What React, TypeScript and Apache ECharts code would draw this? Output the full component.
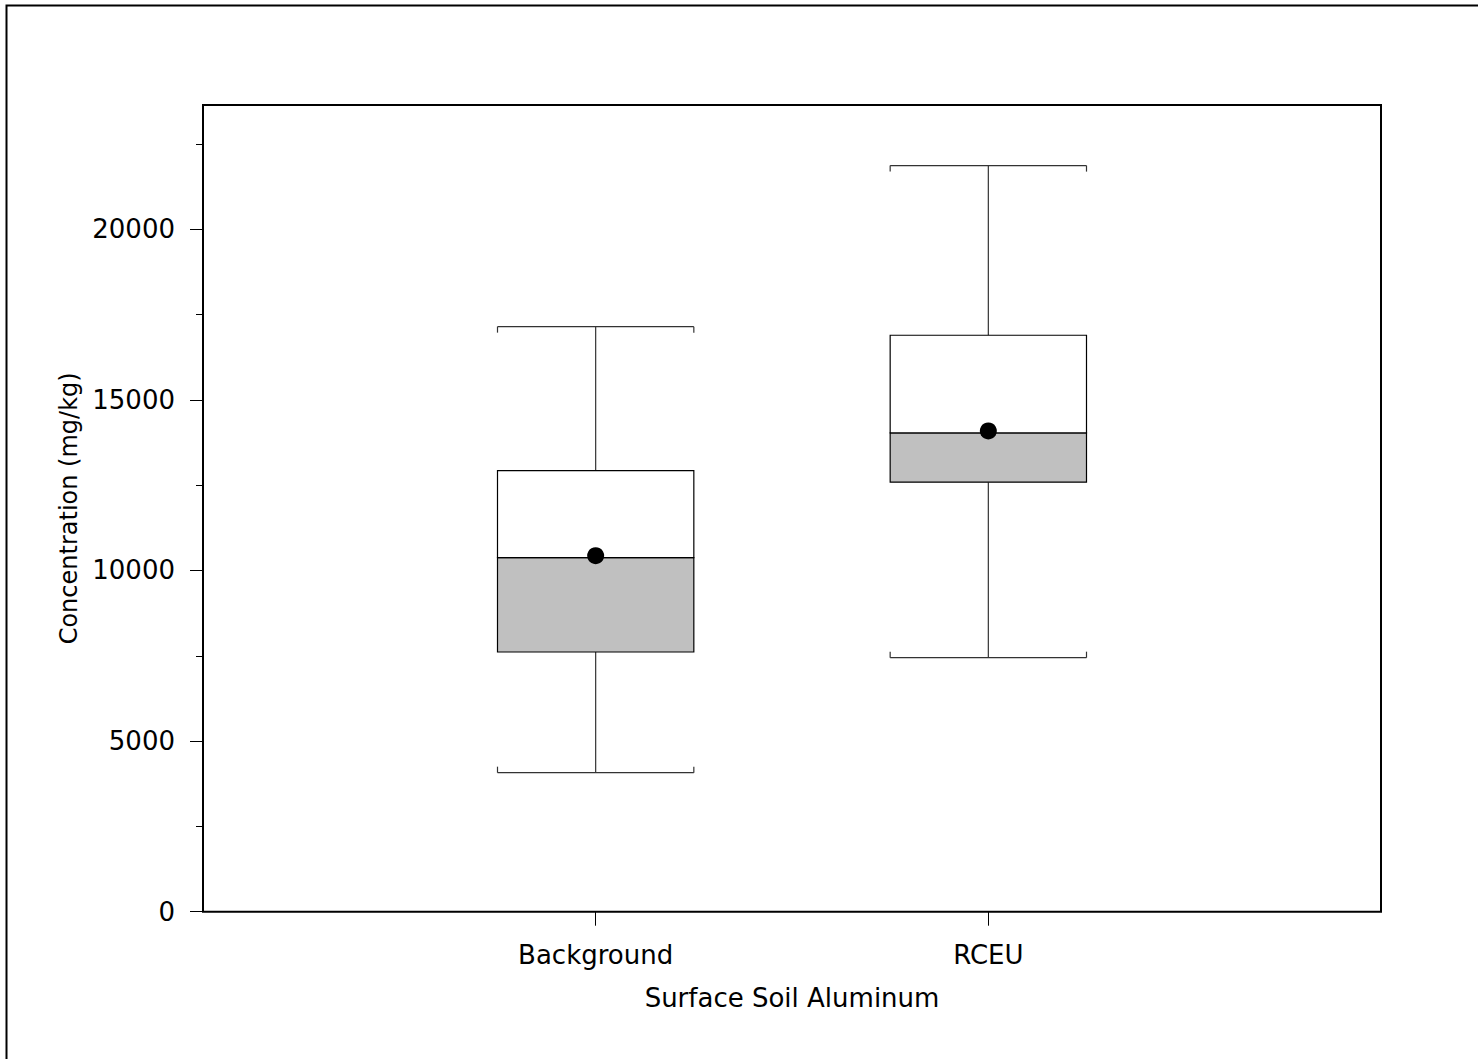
import React, { useEffect, useRef } from "react";
import * as echarts from "echarts";

const categories = ["Background", "RCEU"];
const whiskerLow = [4074, 7444];
const quartile1 = [7611, 12588];
const medians = [10375, 14030];
const quartile3 = [12925, 16893];
const whiskerHigh = [17145, 21864];
const means = [10434, 14088];
const yMajorTicks = [0, 5000, 10000, 15000, 20000];
const yMinorTicks = [2500, 7500, 12500, 17500, 22500];
const categoryPositions = [1, 2];

const FONT = "DejaVu Sans";

export default function App() {
  const ref = useRef<HTMLDivElement>(null);
  useEffect(() => {
    document.body.style.margin = "0";
    document.body.style.overflow = "hidden";
    const chart = echarts.init(ref.current!, null, { renderer: "svg" });
    const boxData = categories.map((c, i) => [
      categoryPositions[i],
      whiskerLow[i],
      quartile1[i],
      medians[i],
      quartile3[i],
      whiskerHigh[i],
    ]);
    const meanData = categories.map((c, i) => [categoryPositions[i], means[i]]);
    const option: any = {
      animation: false,
      backgroundColor: "#fff",
      grid: {
        left: 203,
        top: 105,
        width: 1178,
        height: 806.7,
        show: true,
        borderColor: "#000",
        borderWidth: 2,
        backgroundColor: "transparent",
      },
      xAxis: {
        type: "value",
        min: 0,
        max: 3,
        name: "Surface Soil Aluminum",
        nameLocation: "middle",
        nameGap: 73,
        nameTextStyle: { fontFamily: FONT, fontSize: 26, color: "#000" },
        axisLine: { show: false },
        splitLine: { show: false },
        axisTick: {
          show: true,
          length: 14,
          customValues: categoryPositions,
          lineStyle: { color: "#000", width: 1 },
        },
        axisLabel: {
          show: true,
          customValues: categoryPositions,
          margin: 30,
          fontFamily: FONT,
          fontSize: 26,
          color: "#000",
          formatter: (v: number) => {
            const idx = categoryPositions.indexOf(Math.round(v));
            return idx >= 0 ? categories[idx] : "";
          },
        },
      },
      yAxis: [
        {
          type: "value",
          min: 0,
          max: 23640,
          name: "Concentration (mg/kg)",
          nameLocation: "middle",
          nameGap: 111,
          nameTextStyle: { fontFamily: FONT, fontSize: 24, color: "#000" },
          axisLine: { show: false },
          splitLine: { show: false },
          axisTick: {
            show: true,
            length: 13,
            customValues: yMajorTicks,
            lineStyle: { color: "#000", width: 1 },
          },
          axisLabel: {
            show: true,
            customValues: yMajorTicks,
            margin: 28,
            fontFamily: FONT,
            fontSize: 26,
            color: "#000",
            formatter: (v: number) => String(Math.round(v)),
          },
        },
        {
          type: "value",
          min: 0,
          max: 23640,
          position: "left",
          axisLine: { show: false },
          splitLine: { show: false },
          axisLabel: { show: false, customValues: yMinorTicks },
          axisTick: {
            show: true,
            length: 7,
            customValues: yMinorTicks,
            lineStyle: { color: "#000", width: 1 },
          },
        },
      ],
      series: [
        {
          type: "custom",
          name: "Box",
          data: boxData,
          encode: { x: 0, y: [1, 2, 3, 4, 5] },
          renderItem: (params: any, api: any) => {
            const x = api.value(0);
            const pLow = api.coord([x, api.value(1)]);
            const pQ1 = api.coord([x, api.value(2)]);
            const pMed = api.coord([x, api.value(3)]);
            const pQ3 = api.coord([x, api.value(4)]);
            const pHigh = api.coord([x, api.value(5)]);
            const w = api.size([0.5, 0])[0];
            const hw = w / 2;
            const cx = pLow[0];
            const wStyle = { stroke: "#333", lineWidth: 1.2 };
            const bStyle = { stroke: "#000", lineWidth: 1.2 };
            const endLen = 6;
            return {
              type: "group",
              children: [
                { type: "line", shape: { x1: cx, y1: pLow[1], x2: cx, y2: pQ1[1] }, style: wStyle },
                { type: "line", shape: { x1: cx, y1: pQ3[1], x2: cx, y2: pHigh[1] }, style: wStyle },
                { type: "line", shape: { x1: cx - hw, y1: pLow[1], x2: cx + hw, y2: pLow[1] }, style: wStyle },
                { type: "line", shape: { x1: cx - hw, y1: pLow[1], x2: cx - hw, y2: pLow[1] - endLen }, style: wStyle },
                { type: "line", shape: { x1: cx + hw, y1: pLow[1], x2: cx + hw, y2: pLow[1] - endLen }, style: wStyle },
                { type: "line", shape: { x1: cx - hw, y1: pHigh[1], x2: cx + hw, y2: pHigh[1] }, style: wStyle },
                { type: "line", shape: { x1: cx - hw, y1: pHigh[1], x2: cx - hw, y2: pHigh[1] + endLen }, style: wStyle },
                { type: "line", shape: { x1: cx + hw, y1: pHigh[1], x2: cx + hw, y2: pHigh[1] + endLen }, style: wStyle },
                {
                  type: "rect",
                  shape: { x: cx - hw, y: pMed[1], width: w, height: pQ1[1] - pMed[1] },
                  style: { ...bStyle, fill: "#c0c0c0" },
                },
                {
                  type: "rect",
                  shape: { x: cx - hw, y: pQ3[1], width: w, height: pMed[1] - pQ3[1] },
                  style: { ...bStyle, fill: "#fff" },
                },
              ],
            };
          },
          z: 2,
        },
        {
          type: "scatter",
          name: "Mean",
          data: meanData,
          symbol: "circle",
          symbolSize: 17,
          itemStyle: { color: "#000", opacity: 1 },
          z: 5,
        },
      ],
      graphic: [
        {
          type: "rect",
          shape: { x: 6.5, y: 5.5, width: 1600, height: 1200 },
          style: { fill: "none", stroke: "#000", lineWidth: 2 },
          silent: true,
        },
      ],
    };
    chart.setOption(option);
    return () => chart.dispose();
  }, []);
  return <div ref={ref} style={{ width: 1478, height: 1059 }} />;
}
